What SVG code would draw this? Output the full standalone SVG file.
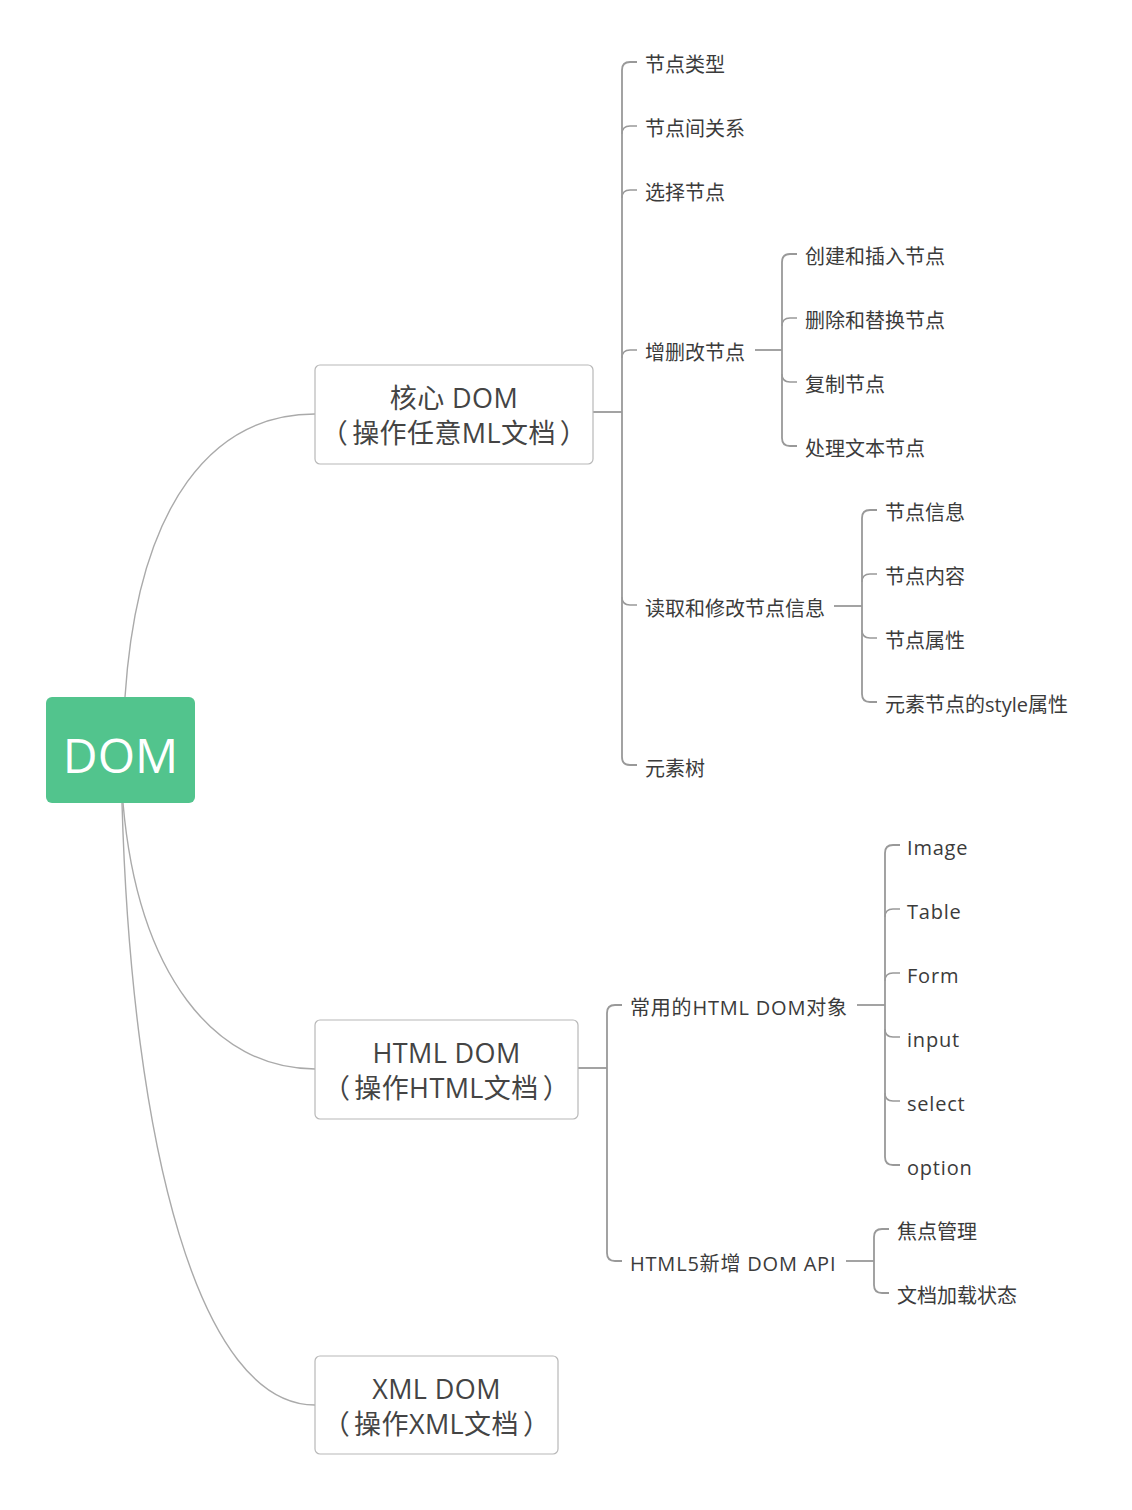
<svg xmlns="http://www.w3.org/2000/svg" width="1132" height="1510" viewBox="0 0 1132 1510">
<style>
text{font-family:"Open Sans","Noto Sans CJK SC",sans-serif;fill:#3b3b3b;dominant-baseline:central}
.leaf{font-size:20px}
.lat{letter-spacing:0.8px}
.box{fill:#fff;stroke:#b8b8b8;stroke-width:1.2}
.bt{font-size:27px;text-anchor:middle;fill:#444;letter-spacing:0.4px}
.curve{fill:none;stroke:#aaaaaa;stroke-width:1.4}
.ln{fill:none;stroke:#999;stroke-width:1.8}
.st{fill:none;stroke:#999;stroke-width:1.4}
</style>
<rect width="1132" height="1510" fill="#fff"/>
<g id="connectors">
<path class="curve" d="M125,697 C138,500 215,414 315,414"/>
<path class="curve" d="M123,803 C138,975 215,1069 315,1069"/>
<path class="curve" d="M122,803 C132,1150 200,1405 315,1405"/>
<path class="ln" d="M593,412 H622"/>
<path class="ln" d="M637,62 H630 Q622,62 622,70 V757 Q622,765 630,765 H637"/>
<path class="st" d="M622,134 Q622,126 630,126 H637 M622,198 Q622,190 630,190 H637 M622,358 Q622,350 630,350 H637 M622,597 Q622,605 630,605 H637"/>
<path class="ln" d="M755,350 H782"/>
<path class="ln" d="M797,254 H790 Q782,254 782,262 V438 Q782,446 790,446 H797"/>
<path class="st" d="M782,326 Q782,318 790,318 H797 M782,374 Q782,382 790,382 H797"/>
<path class="ln" d="M834,606 H862"/>
<path class="ln" d="M877,510 H870 Q862,510 862,518 V694 Q862,702 870,702 H877"/>
<path class="st" d="M862,582 Q862,574 870,574 H877 M862,630 Q862,638 870,638 H877"/>
<path class="ln" d="M578,1068 H607"/>
<path class="ln" d="M622,1005 H615 Q607,1005 607,1013 V1253 Q607,1261 615,1261 H622"/>
<path class="ln" d="M857,1005 H885"/>
<path class="ln" d="M900,845 H893 Q885,845 885,853 V1157 Q885,1165 893,1165 H900"/>
<path class="st" d="M885,917 Q885,909 893,909 H900 M885,981 Q885,973 893,973 H900 M885,1029 Q885,1037 893,1037 H900 M885,1093 Q885,1101 893,1101 H900"/>
<path class="ln" d="M846,1261 H874"/>
<path class="ln" d="M889,1229 H882 Q874,1229 874,1237 V1285 Q874,1293 882,1293 H889"/>
</g>
<g id="root">
<rect x="46" y="697" width="149" height="106" rx="6" fill="#52c48d"/>
<text x="120.5" y="754" font-size="48" text-anchor="middle" style="fill:#fff">DOM</text>
</g>
<g id="core">
<rect class="box" x="315" y="365" width="278" height="99" rx="5"/>
<text class="bt" x="454" y="397">核心 DOM</text>
<text class="bt" x="454" y="432">（<tspan dx="4">操作任意ML文档</tspan><tspan dx="4">）</tspan></text>
</g>
<g id="htmldom">
<rect class="box" x="315" y="1020" width="263" height="99" rx="5"/>
<text class="bt" x="446.5" y="1052">HTML DOM</text>
<text class="bt" x="446.5" y="1087">（<tspan dx="4">操作HTML文档</tspan><tspan dx="4">）</tspan></text>
</g>
<g id="xmldom">
<rect class="box" x="315" y="1356" width="243" height="98" rx="5"/>
<text class="bt" x="436.5" y="1388">XML DOM</text>
<text class="bt" x="436.5" y="1423">（<tspan dx="4">操作XML文档</tspan><tspan dx="4">）</tspan></text>
</g>
<g id="n1"><text class="leaf" x="645" y="64">节点类型</text></g>
<g id="n2"><text class="leaf" x="645" y="128">节点间关系</text></g>
<g id="n3"><text class="leaf" x="645" y="192">选择节点</text></g>
<g id="n4"><text class="leaf" x="645" y="352">增删改节点</text></g>
<g id="n4a"><text class="leaf" x="805" y="256">创建和插入节点</text></g>
<g id="n4b"><text class="leaf" x="805" y="320">删除和替换节点</text></g>
<g id="n4c"><text class="leaf" x="805" y="384">复制节点</text></g>
<g id="n4d"><text class="leaf" x="805" y="448">处理文本节点</text></g>
<g id="n5"><text class="leaf" x="645" y="608">读取和修改节点信息</text></g>
<g id="n5a"><text class="leaf" x="885" y="512">节点信息</text></g>
<g id="n5b"><text class="leaf" x="885" y="576">节点内容</text></g>
<g id="n5c"><text class="leaf" x="885" y="640">节点属性</text></g>
<g id="n5d"><text class="leaf" x="885" y="704">元素节点的style属性</text></g>
<g id="n6"><text class="leaf" x="645" y="768">元素树</text></g>
<g id="h1"><text class="leaf lat" x="630" y="1007">常用的HTML DOM对象</text></g>
<g id="h1a"><text class="leaf lat" x="907" y="847">Image</text></g>
<g id="h1b"><text class="leaf lat" x="907" y="911">Table</text></g>
<g id="h1c"><text class="leaf lat" x="907" y="975">Form</text></g>
<g id="h1d"><text class="leaf lat" x="907" y="1039">input</text></g>
<g id="h1e"><text class="leaf lat" x="907" y="1103">select</text></g>
<g id="h1f"><text class="leaf lat" x="907" y="1167">option</text></g>
<g id="h2"><text class="leaf lat" x="630" y="1263">HTML5新增 DOM API</text></g>
<g id="h2a"><text class="leaf" x="897" y="1231">焦点管理</text></g>
<g id="h2b"><text class="leaf" x="897" y="1295">文档加载状态</text></g>
</svg>
